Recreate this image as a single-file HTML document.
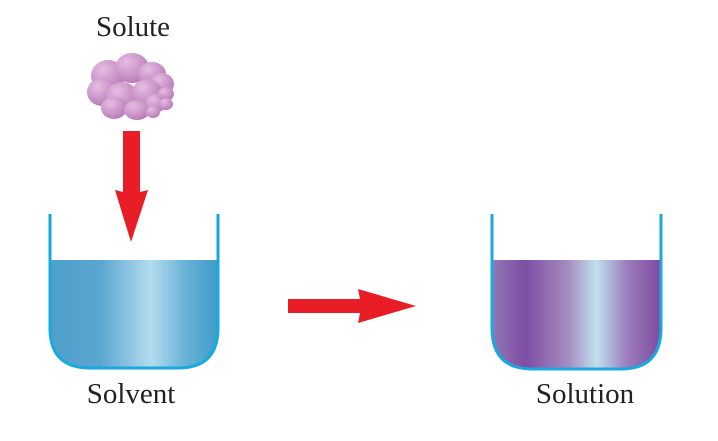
<!DOCTYPE html>
<html><head><style>
html,body{margin:0;padding:0;background:#fff;}
</style></head><body>
<svg width="718" height="436" viewBox="0 0 718 436" xmlns="http://www.w3.org/2000/svg">
<defs>
<linearGradient id="w" x1="0" x2="1" y1="0" y2="0">
<stop offset="0" stop-color="#4e9fcb"/><stop offset="0.3" stop-color="#5aa6d0"/>
<stop offset="0.6" stop-color="#b4dcef"/><stop offset="0.8" stop-color="#6ab3d8"/>
<stop offset="1" stop-color="#3f9cc9"/></linearGradient>
<linearGradient id="p" x1="0" x2="1" y1="0" y2="0">
<stop offset="0" stop-color="#9277b5"/><stop offset="0.2" stop-color="#7e4ea3"/>
<stop offset="0.45" stop-color="#a58cc0"/><stop offset="0.62" stop-color="#bfe0ef"/>
<stop offset="0.8" stop-color="#9a7cbb"/><stop offset="1" stop-color="#7f4a9f"/></linearGradient>
<radialGradient id="c" cx="0.35" cy="0.3" r="0.8">
<stop offset="0" stop-color="#e6bde3"/><stop offset="1" stop-color="#b574b3"/></radialGradient>
</defs>
<g font-family="Liberation Serif, serif" font-size="29" fill="#222" text-anchor="middle">
<text x="133" y="36">Solute</text>
<text x="131" y="403">Solvent</text>
<text x="585" y="403">Solution</text>
</g>
<g fill="url(#c)">
<ellipse cx="108" cy="76" rx="17" ry="16"/><ellipse cx="132" cy="68" rx="17" ry="15"/>
<ellipse cx="102" cy="92" rx="15" ry="14"/><ellipse cx="152" cy="74" rx="14" ry="12"/>
<ellipse cx="162" cy="84" rx="12" ry="11"/><ellipse cx="122" cy="97" rx="16" ry="15"/>
<ellipse cx="147" cy="93" rx="15" ry="14"/><ellipse cx="114" cy="108" rx="13" ry="11"/>
<ellipse cx="137" cy="110" rx="13" ry="10"/><ellipse cx="156" cy="103" rx="11" ry="9"/>
<ellipse cx="166" cy="94" rx="8" ry="7"/><ellipse cx="166" cy="104" rx="7" ry="6"/>
<ellipse cx="153" cy="112" rx="7" ry="6"/>
</g>
<polygon points="123,131 140,131 140,192 148,190 131,242 115,190 123,192" fill="#e81d25"/>
<polygon points="288,299 360,299 358,289 416,306 358,323 360,313 288,313" fill="#e81d25"/>
<path d="M50,260 H218 V328 Q218,368 178,368 H90 Q50,368 50,328 Z" fill="url(#w)"/>
<path d="M50,214 V328 Q50,368 90,368 H178 Q218,368 218,328 V214" fill="none" stroke="#1aa9de" stroke-width="3"/>
<path d="M492,260 H661 V328 Q661,369 621,369 H532 Q492,369 492,328 Z" fill="url(#p)"/>
<path d="M492,214 V328 Q492,369 532,369 H621 Q661,369 661,328 V214" fill="none" stroke="#1aa9de" stroke-width="3"/>
</svg>
</body></html>
